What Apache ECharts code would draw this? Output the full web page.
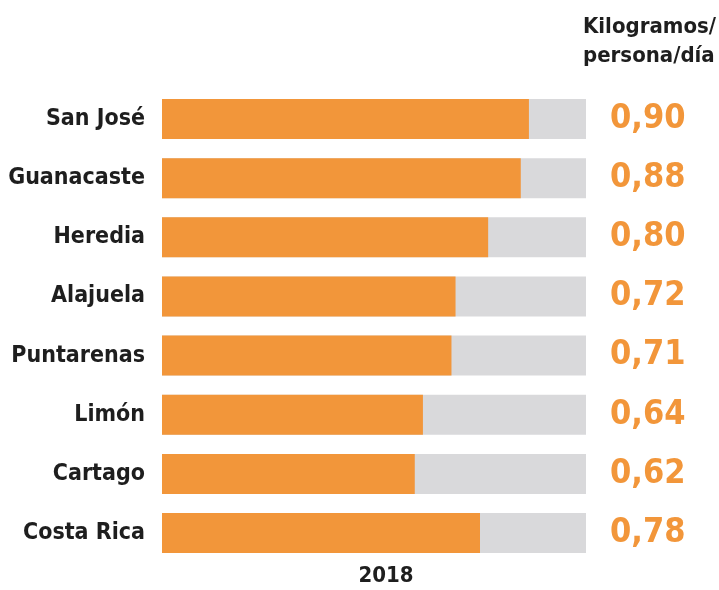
<!DOCTYPE html>
<html>
<head>
<meta charset="utf-8">
<script src="https://cdn.jsdelivr.net/npm/echarts@6/dist/echarts.min.js"></script>
<style>
  html, body { margin: 0; padding: 0; background: #ffffff; }
  #chart { width: 719px; height: 590px; }
</style>
</head>
<body>
<div id="chart"></div>
<script>
// Waste generated per person per day, by province (2018)
const provinces = ['San José', 'Guanacaste', 'Heredia', 'Alajuela', 'Puntarenas', 'Limón', 'Cartago', 'Costa Rica'];
const kgPerPersonDay = [0.90, 0.88, 0.80, 0.72, 0.71, 0.64, 0.62, 0.78];
const unitLabel = ['Kilogramos/', 'persona/día'];
const yearLabel = '2018';

const FONT = '"DejaVu Sans Condensed", "DejaVu Sans", sans-serif';
const ORANGE = '#F2963A';
const GREY = '#D9D9DB';
const INK = '#1e1e1e';

const fmt = v => v.toFixed(2).replace('.', ',');

const chart = echarts.init(document.getElementById('chart'), null, { renderer: 'canvas' });
chart.setOption({
  backgroundColor: '#ffffff',
  animation: false,
  grid: { left: 162, right: 133, top: 89.4, bottom: 27.4 },
  xAxis: {
    type: 'value',
    min: 0,
    max: 1.04,
    show: false
  },
  yAxis: [
    {
      type: 'category',
      data: provinces,
      inverse: true,
      axisLine: { show: false },
      axisTick: { show: false },
      axisLabel: {
        margin: 17,
        color: INK,
        fontFamily: FONT,
        fontWeight: 'bold',
        fontSize: 23
      }
    },
    {
      type: 'category',
      data: kgPerPersonDay.map(fmt),
      inverse: true,
      position: 'right',
      axisLine: { show: false },
      axisTick: { show: false },
      axisLabel: {
        margin: 24,
        color: ORANGE,
        fontFamily: FONT,
        fontWeight: 'bold',
        fontSize: 34,
        padding: [4, 0, 0, 0]
      }
    }
  ],
  graphic: [
    {
      type: 'text',
      left: 583,
      top: 13,
      style: {
        text: unitLabel.join('\n'),
        fill: INK,
        font: 'bold 22px ' + FONT,
        lineHeight: 29
      }
    },
    {
      type: 'text',
      x: 386,
      y: 565,
      style: {
        text: yearLabel,
        fill: INK,
        font: 'bold 22px ' + FONT,
        textAlign: 'center',
        textVerticalAlign: 'top'
      }
    }
  ],
  series: [
    {
      type: 'bar',
      data: kgPerPersonDay,
      barWidth: 40,
      itemStyle: { color: ORANGE },
      showBackground: true,
      backgroundStyle: { color: GREY }
    }
  ]
});
</script>
</body>
</html>
